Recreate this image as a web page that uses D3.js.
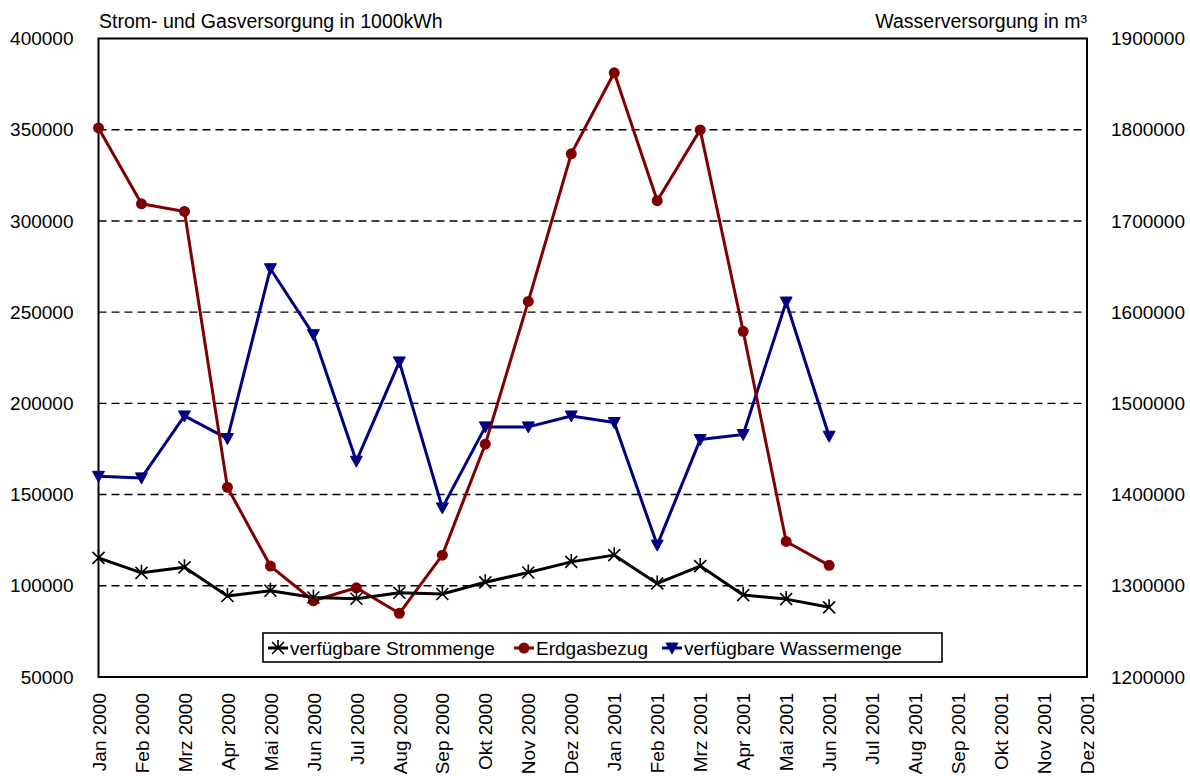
<!DOCTYPE html>
<html>
<head>
<meta charset="utf-8">
<script src="https://cdn.jsdelivr.net/npm/d3@7"></script>
<style>
  body { margin: 0; background: #fff; }
  text { font-family: "Liberation Sans", Arial, sans-serif; fill: #000; }
</style>
</head>
<body>
<svg></svg>
<script>
const months = ["Jan 2000","Feb 2000","Mrz 2000","Apr 2000","Mai 2000","Jun 2000","Jul 2000","Aug 2000","Sep 2000","Okt 2000","Nov 2000","Dez 2000",
  "Jan 2001","Feb 2001","Mrz 2001","Apr 2001","Mai 2001","Jun 2001","Jul 2001","Aug 2001","Sep 2001","Okt 2001","Nov 2001","Dez 2001"];

// left axis (1000 kWh)
const strom = [115300,107100,110100,94400,97300,93600,92900,96200,95500,101900,107300,113100,
  116800,101300,110800,94900,92700,88200];
const erdgas = [351000,309400,305200,154000,110800,91800,98900,84900,116800,177600,255900,336800,
  381200,311100,349900,239500,124300,111200];
// right axis (m³)
const wasser = [1420000,1418300,1486200,1461400,1647600,1575300,1436600,1545400,1385400,1474200,1474200,1486200,
  1479000,1344600,1460300,1465800,1611100,1464000];

const leftTicks = [50000,100000,150000,200000,250000,300000,350000,400000];
const rightTicks = [1200000,1300000,1400000,1500000,1600000,1700000,1800000,1900000];

const svg = d3.select("svg").attr("width", 1190).attr("height", 776);
const margin = { top: 38.5, right: 103, bottom: 99, left: 98.5 };
const width = 1190 - margin.left - margin.right;
const height = 776 - margin.top - margin.bottom;
const g = svg.append("g").attr("transform", `translate(${margin.left},${margin.top})`);

const x = d3.scalePoint().domain(months).range([0, width]);
const yL = d3.scaleLinear().domain([50000, 400000]).range([height, 0]);
const yR = d3.scaleLinear().domain([1200000, 1900000]).range([height, 0]);

const fs = "19px";

// gridlines
g.selectAll(".grid").data(leftTicks.slice(1, -1)).enter().append("line")
  .attr("x1", 0).attr("x2", width)
  .attr("y1", d => yL(d)).attr("y2", d => yL(d))
  .attr("stroke", "#000").attr("stroke-width", 1.4).attr("stroke-dasharray", "8,5");

// frame
g.append("rect").attr("width", width).attr("height", height)
  .attr("fill", "none").attr("stroke", "#000").attr("stroke-width", 2);

// axes
const leftAxis = g.append("g").call(d3.axisLeft(yL).tickValues(leftTicks).tickSize(0).tickPadding(25).tickFormat(d3.format("d")));
const rightAxis = g.append("g").attr("transform", `translate(${width},0)`)
  .call(d3.axisRight(yR).tickValues(rightTicks).tickSize(0).tickPadding(24).tickFormat(d3.format("d")));
const bottomAxis = g.append("g").attr("transform", `translate(0,${height})`)
  .call(d3.axisBottom(x).tickSize(0));
[leftAxis, rightAxis, bottomAxis].forEach(a => {
  a.select(".domain").remove();
  a.selectAll("text").style("font-size", fs).style("font-family", "Liberation Sans, Arial, sans-serif");
});
bottomAxis.selectAll("text")
  .attr("text-anchor", "end")
  .attr("transform", "rotate(-90)")
  .attr("x", -16).attr("y", 0).attr("dy", "0.35em");

// series
const lineL = d3.line().x((d, i) => x(months[i])).y(d => yL(d));
const lineR = d3.line().x((d, i) => x(months[i])).y(d => yR(d));

const cRed = "#800000", cBlue = "#000080", cBlack = "#000";

g.append("path").datum(wasser).attr("d", lineR).attr("fill", "none").attr("stroke", cBlue).attr("stroke-width", 3).attr("stroke-linejoin", "round");
g.append("path").datum(erdgas).attr("d", lineL).attr("fill", "none").attr("stroke", cRed).attr("stroke-width", 3).attr("stroke-linejoin", "round");
g.append("path").datum(strom).attr("d", lineL).attr("fill", "none").attr("stroke", cBlack).attr("stroke-width", 3).attr("stroke-linejoin", "round");

const tri = "M-6,-5L6,-5L0,6Z";
const star = "M-6,-6L6,6M-6,6L6,-6M0,-8L0,0";

function addTri(sel, px, py) { sel.append("path").attr("d", tri).attr("transform", `translate(${px},${py})`).attr("fill", cBlue).attr("stroke", cBlue).attr("stroke-width", 1); }
function addDot(sel, px, py) { sel.append("circle").attr("cx", px).attr("cy", py).attr("r", 5.5).attr("fill", cRed); }
function addStar(sel, px, py) { sel.append("path").attr("d", star).attr("transform", `translate(${px},${py})`).attr("fill", "none").attr("stroke", cBlack).attr("stroke-width", 1.6); }

wasser.forEach((d, i) => addTri(g, x(months[i]), yR(d)));
erdgas.forEach((d, i) => addDot(g, x(months[i]), yL(d)));
strom.forEach((d, i) => addStar(g, x(months[i]), yL(d)));

// axis titles
svg.append("text").attr("x", 99).attr("y", 28).style("font-size", "19.5px").text("Strom- und Gasversorgung in 1000kWh");
svg.append("text").attr("x", margin.left + width).attr("y", 28).attr("text-anchor", "end").style("font-size", "19.5px").text("Wasserversorgung in m³");

// legend
const lg = svg.append("g");
lg.append("rect").attr("x", 263).attr("y", 633).attr("width", 679).attr("height", 29)
  .attr("fill", "#fff").attr("stroke", "#000").attr("stroke-width", 1.6);
const ly = 648;
const items = [
  { name: "verfügbare Strommenge", c: cBlack, x0: 268, f: addStar },
  { name: "Erdgasbezug", c: cRed, x0: 514, f: addDot },
  { name: "verfügbare Wassermenge", c: cBlue, x0: 662, f: addTri }
];
items.forEach(it => {
  lg.append("line").attr("x1", it.x0).attr("x2", it.x0 + 20).attr("y1", ly).attr("y2", ly).attr("stroke", it.c).attr("stroke-width", 3);
  it.f(lg, it.x0 + 10, ly);
  lg.append("text").attr("x", it.x0 + 22).attr("y", ly).attr("dy", "0.35em").style("font-size", fs).text(it.name);
});
</script>
</body>
</html>
